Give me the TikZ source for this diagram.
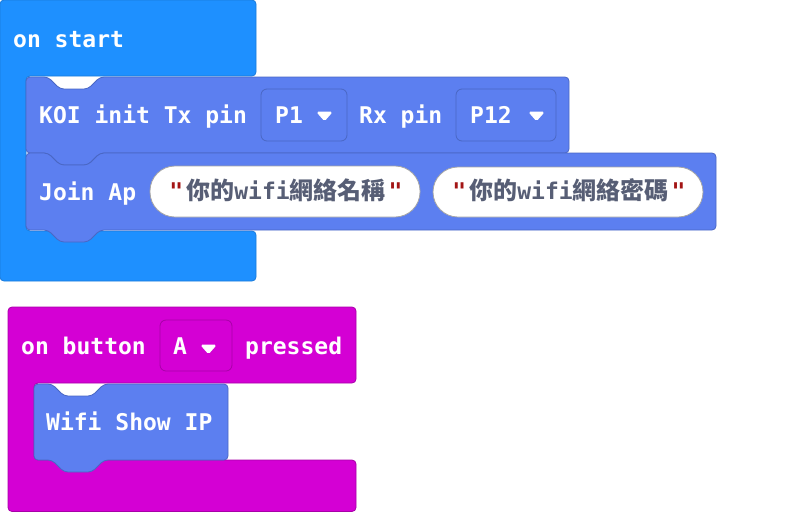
\documentclass[tikz,border=0pt]{standalone}
\usepackage{fontspec}
\setmonofont{DejaVu Sans Mono}
\newfontfamily\cjk{Noto Sans CJK TC}
\definecolor{startblue}{HTML}{1E90FF}
\definecolor{startborder}{HTML}{1A7AD9}
\definecolor{koiblue}{HTML}{5C7FF0}
\definecolor{koiborder}{HTML}{4A67C4}
\definecolor{mag}{HTML}{D400D4}
\definecolor{magborder}{HTML}{A800A8}
\definecolor{strtext}{HTML}{575E75}
\definecolor{quotered}{HTML}{A31515}
\begin{document}
\begin{tikzpicture}[x=1pt,y=-1pt,
  lbl/.style={text=white,font=\fontsize{23}{28}\ttfamily\bfseries\selectfont,inner sep=0pt,anchor=base west},
  blk/.style={rounded corners=4pt,line width=0.8pt},
  dd/.style={rounded corners=6pt,line width=0.8pt},
  str/.style={fill=white,draw=gray!70,line width=0.8pt,rounded corners=25pt},
  tri/.style={fill=white,draw=white,line width=1pt,rounded corners=1.5pt,line join=round},
  strtxt/.style={text=strtext,inner sep=0pt,anchor=base,font=\fontsize{23}{28}\ttfamily\bfseries\selectfont}
]
\useasboundingbox (0,0) rectangle (799,512);
\newcommand\qq{\textcolor{quotered}{"}}
\newcommand\zh[1]{{\cjk\bfseries\fontsize{24}{28}\selectfont #1}}
% on start C block
\draw[blk,fill=startblue,draw=startborder] (0,0) -- (256,0) -- (256,76) -- (26,76) -- (26,231) -- (256,231) -- (256,281) -- (0,281) -- cycle;
% KOI init block
\draw[blk,fill=koiblue,draw=koiborder] (26,77) -- (48,77) -- (60,89) -- (88,89) -- (100,77) -- (569,77) -- (569,153) -- (100,153) -- (88,165) -- (60,165) -- (48,153) -- (26,153) -- cycle;
% Join Ap block
\draw[blk,fill=koiblue,draw=koiborder] (26,153) -- (48,153) -- (60,165) -- (88,165) -- (100,153) -- (716,153) -- (716,230) -- (100,230) -- (88,242) -- (60,242) -- (48,230) -- (26,230) -- cycle;
% dropdowns
\draw[dd,fill=koiblue,draw=koiborder] (261,89) rectangle (347,141);
\draw[dd,fill=koiblue,draw=koiborder] (456,89) rectangle (556,141);
\draw[tri] (317,112) -- (332,112) -- (324.5,120.5) -- cycle;
\draw[tri] (529,112) -- (544,112) -- (536.5,120.5) -- cycle;
% strings
\draw[str] (150,166) rectangle (420,217);
\draw[str] (433,167) rectangle (703,217);
% texts
\node[lbl] (tstart) at (13,47) {on start};
\node[lbl] (tkoi) at (39,123) {KOI init Tx pin};
\node[lbl] (tp1) at (275,123) {P1};
\node[lbl] (trx) at (359,123) {Rx pin};
\node[lbl] (tp12) at (470,123) {P12};
\node[lbl] (tjoin) at (39,200) {Join Ap};
\node[strtxt] (s1) at (286,199) {\qq\hspace{3pt}\zh{你的}wifi\zh{網絡名稱}\hspace{3pt}\qq};
\node[strtxt] (s2) at (569,199) {\qq\hspace{3pt}\zh{你的}wifi\zh{網絡密碼}\hspace{3pt}\qq};
% on button block
\draw[blk,fill=mag,draw=magborder] (8,307) -- (356,307) -- (356,383) -- (34,383) -- (34,460) -- (356,460) -- (356,511.5) -- (8,511.5) -- cycle;
\draw[dd,fill=mag,draw=magborder] (160,320) rectangle (232,371);
\draw[tri] (201,345) -- (216,345) -- (208.5,353.5) -- cycle;
\node[lbl] (tbtn) at (21,354) {on button};
\node[lbl] (ta) at (173,354) {A};
\node[lbl] (tpress) at (245,354) {pressed};
% Wifi Show IP block
\draw[blk,fill=koiblue,draw=koiborder] (34,384) -- (52,384) -- (64,396) -- (92,396) -- (104,384) -- (228,384) -- (228,460) -- (104,460) -- (92,472) -- (64,472) -- (52,460) -- (34,460) -- cycle;
\node[lbl] (twifi) at (46,430) {Wifi Show IP};
\end{tikzpicture}
\end{document}
